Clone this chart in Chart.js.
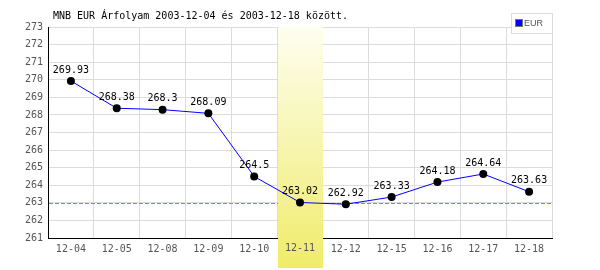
<!DOCTYPE html>
<html>
<head>
<meta charset="utf-8">
<script src="https://cdn.jsdelivr.net/npm/chart.js@4/dist/chart.umd.min.js"></script>
<style>
  body { margin: 0; background: #fff; }
  #wrap { width: 600px; height: 270px; position: relative; }
</style>
</head>
<body>
<div id="wrap"><canvas id="chart"></canvas></div>
<script>
const titleText = "MNB EUR Árfolyam 2003-12-04 és 2003-12-18 között.";
const days = ["12-04", "12-05", "12-08", "12-09", "12-10", "12-11", "12-12", "12-15", "12-16", "12-17", "12-18"];
const eurRates = [269.93, 268.38, 268.3, 268.09, 264.5, 263.02, 262.92, 263.33, 264.18, 264.64, 263.63];
const yMin = 261;
const yMax = 273;
const refValue = 263;
const highlightDay = "12-11";

const mono = "'DejaVu Sans Mono', monospace";
const hiIndex = days.indexOf(highlightDay);

// dashed reference line, yellow band for the highlighted day
const bandPlugin = {
  id: "band",
  beforeDatasetsDraw(chart) {
    const { ctx, chartArea, scales } = chart;
    const x = scales.x, y = scales.y;
    const yRef = y.getPixelForValue(refValue);
    ctx.save();
    ctx.strokeStyle = "#8080ff";
    ctx.lineWidth = 1;
    ctx.setLineDash([4, 2]);
    ctx.beginPath();
    ctx.moveTo(chartArea.left + 1, Math.round(yRef) + 0.5);
    ctx.lineTo(chartArea.right, Math.round(yRef) + 0.5);
    ctx.stroke();
    ctx.setLineDash([]);

    const half = (x.getPixelForValue(1) - x.getPixelForValue(0)) / 2;
    const cx = x.getPixelForValue(hiIndex);
    const top = chartArea.top, bottom = chart.height - 2;
    const g = ctx.createLinearGradient(0, top, 0, bottom);
    g.addColorStop(0, "#fefef0");
    g.addColorStop(1, "#f0ec6a");
    ctx.fillStyle = g;
    ctx.fillRect(Math.round(cx - half) + 1, top, Math.round(half * 2) - 1, bottom - top);

    // redraw the tick label that the band covers
    ctx.fillStyle = "#555";
    ctx.font = "10px " + mono;
    ctx.textAlign = "center";
    ctx.textBaseline = "middle";
    ctx.fillText(days[hiIndex], cx, chartArea.bottom + 10.5);
    ctx.restore();
  }
};

// title, point values, legend
const textPlugin = {
  id: "texts",
  afterDatasetsDraw(chart) {
    const { ctx, chartArea } = chart;
    const meta = chart.getDatasetMeta(0);
    ctx.save();
    ctx.fillStyle = "#000";
    ctx.font = "10px " + mono;
    ctx.textAlign = "center";
    ctx.textBaseline = "middle";
    meta.data.forEach((pt, i) => {
      ctx.fillText(String(eurRates[i]), pt.x, pt.y - 11);
    });

    ctx.textAlign = "left";
    ctx.fillText(titleText, 53, 16);

    // legend box
    const lx = chartArea.right - 41, ly = 13;
    ctx.fillStyle = "#fff";
    ctx.fillRect(lx, ly, 41, 20);
    ctx.strokeStyle = "#dcdcdc";
    ctx.lineWidth = 1;
    ctx.strokeRect(lx + 0.5, ly + 0.5, 41, 20);
    ctx.fillStyle = "#0000ff";
    ctx.fillRect(lx + 5, ly + 7, 6, 6);
    ctx.strokeStyle = "#777";
    ctx.strokeRect(lx + 4.5, ly + 6.5, 7, 7);
    ctx.fillStyle = "#555";
    ctx.font = "9px 'Liberation Sans', sans-serif";
    ctx.fillText(chart.data.datasets[0].label, lx + 13, ly + 10.5);
    ctx.restore();
  }
};

new Chart(document.getElementById("chart").getContext("2d"), {
  type: "line",
  data: {
    labels: days,
    datasets: [
      {
        label: "EUR",
        data: eurRates,
        borderColor: "#0000ff",
        borderWidth: 1,
        backgroundColor: "#000",
        pointBackgroundColor: "#000",
        pointBorderColor: "#000",
        pointRadius: 4,
        pointBorderWidth: 0,
        tension: 0,
        fill: false,
      },
    ],
  },
  options: {
    responsive: true,
    maintainAspectRatio: false,
    animation: false,
    events: [],
    layout: { padding: { top: 27, right: 48, bottom: 0, left: 0 } },
    plugins: {
      legend: { display: false },
      tooltip: { enabled: false },
      title: { display: false },
    },
    scales: {
      x: {
        offset: true,
        grid: { offset: true, color: "#dcdcdc", drawTicks: false },
        border: { color: "#000", width: 1 },
        ticks: {
          color: (c) => (c.index === hiIndex ? "rgba(0,0,0,0)" : "#555"),
          font: { family: mono, size: 10 },
          padding: 5,
          maxRotation: 0,
          autoSkip: false,
        },
        afterFit(scale) { scale.height = 32; },
      },
      y: {
        min: yMin,
        max: yMax,
        grid: { color: "#dcdcdc", drawTicks: false },
        border: { color: "#000", width: 1 },
        ticks: {
          stepSize: 1,
          color: "#555",
          font: { family: mono, size: 10 },
          padding: 5,
        },
        afterFit(scale) { scale.width = 48; },
      },
    },
  },
  plugins: [bandPlugin, textPlugin],
});
</script>
</body>
</html>
